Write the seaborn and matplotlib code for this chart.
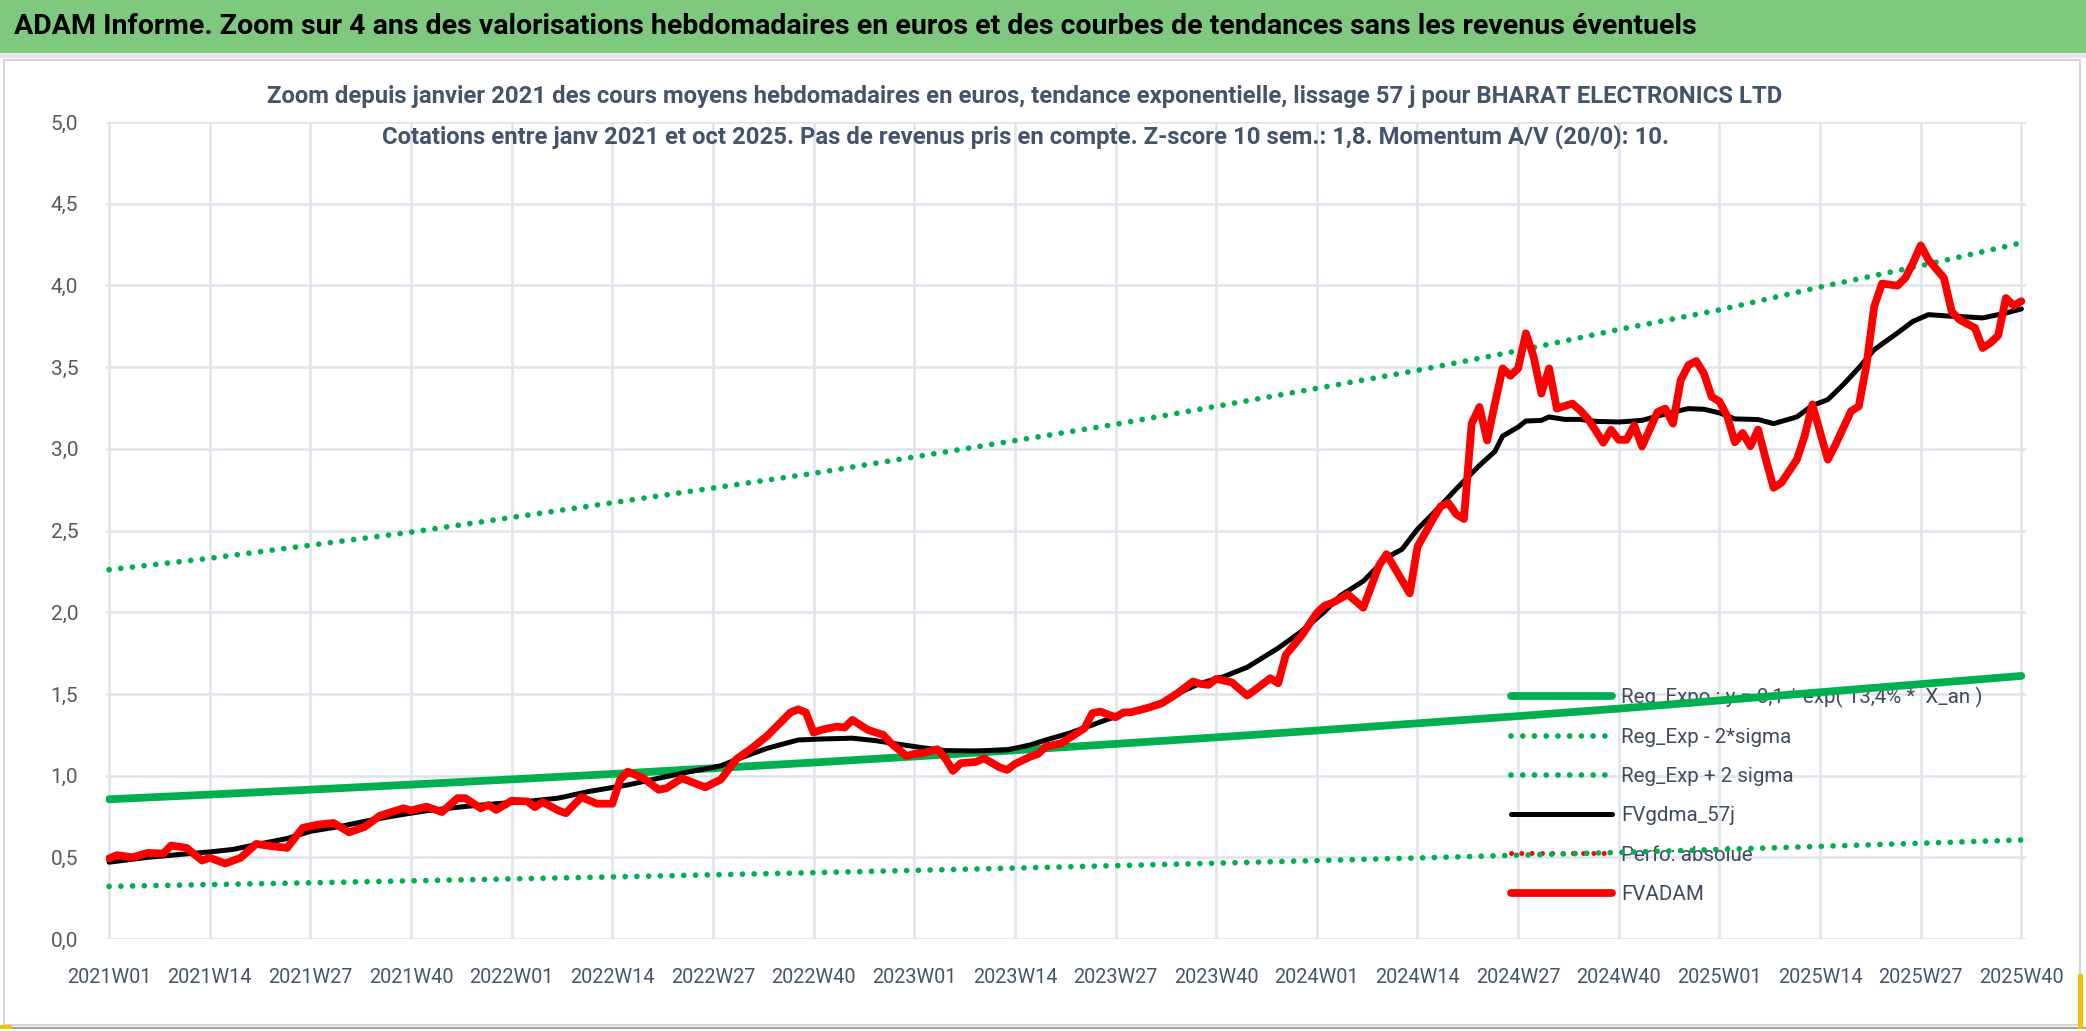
import matplotlib
matplotlib.use('Agg')
import matplotlib.pyplot as plt
import seaborn as sns
from matplotlib.patches import Rectangle
from matplotlib.lines import Line2D
from matplotlib.ticker import FuncFormatter

# x axis: weeks counted from 2021W01
tick_labels = ['2021W01', '2021W14', '2021W27', '2021W40',
               '2022W01', '2022W14', '2022W27', '2022W40',
               '2023W01', '2023W14', '2023W27', '2023W40',
               '2024W01', '2024W14', '2024W27', '2024W40',
               '2025W01', '2025W14', '2025W27', '2025W40']
tick_weeks = [13 * k for k in range(len(tick_labels))]

# trend curves read at each labelled week
reg_expo = [0.855, 0.884, 0.914, 0.945, 0.977, 1.01, 1.045, 1.08, 1.117, 1.155,
            1.194, 1.234, 1.276, 1.32, 1.364, 1.41, 1.46, 1.51, 1.56, 1.61]
reg_low = [0.322, 0.333, 0.344, 0.356, 0.368, 0.38, 0.393, 0.406, 0.42, 0.434,
           0.449, 0.464, 0.48, 0.496, 0.513, 0.53, 0.548, 0.567, 0.586, 0.606]
reg_high = [2.26, 2.33, 2.41, 2.49, 2.58, 2.67, 2.76, 2.85, 2.95, 3.05,
            3.15, 3.26, 3.37, 3.48, 3.60, 3.73, 3.85, 3.99, 4.12, 4.26]

# FVADAM (red)
red_weeks = [0, 1, 3, 5, 7, 8, 10, 12, 13, 15, 17, 19, 21, 23, 25, 27, 29, 31, 33, 35,
             38, 39, 41, 43, 45, 46, 48, 49, 50, 52, 54, 55, 56, 58, 59, 61, 63, 65, 66, 67,
             69, 71, 72, 74, 77, 78, 79, 81, 83, 85, 88, 89, 90, 91, 92, 94, 95, 96, 98, 100,
             101, 103, 104, 105, 107, 108, 109, 110, 112, 113, 115, 116, 117, 119, 120, 121, 123, 124, 126, 127,
             128, 130, 131, 132, 134, 136, 138, 140, 141, 142, 143, 145, 147, 148, 150, 151, 152, 154, 156, 157,
             158, 160, 161, 162, 164, 165, 168, 169, 171, 172, 173, 174, 175, 176, 177, 178, 179, 180, 181, 182,
             183, 184, 185, 186, 187, 189, 190, 191, 192, 193, 194, 195, 196, 197, 198, 200, 201, 202, 203, 204,
             205, 206, 207, 208, 209, 210, 211, 212, 213, 214, 215, 216, 218, 219, 220, 222, 223, 225, 226, 227,
             228, 229, 231, 232, 233, 234, 235, 237, 238, 239, 241, 242, 243, 244, 245, 246, 247]
red_vals = [0.493, 0.513, 0.50, 0.527, 0.523, 0.572, 0.558, 0.48, 0.497, 0.462, 0.497, 0.582, 0.568, 0.558, 0.68, 0.70, 0.71, 0.653, 0.686, 0.755,
            0.80, 0.787, 0.81, 0.777, 0.862, 0.862, 0.80, 0.82, 0.79, 0.846, 0.842, 0.807, 0.838, 0.787, 0.77, 0.868, 0.828, 0.828, 0.974, 1.024,
            0.984, 0.913, 0.923, 0.984, 0.928, 0.953, 0.975, 1.10, 1.167, 1.243, 1.386, 1.406, 1.386, 1.263, 1.28, 1.30, 1.294, 1.341, 1.28, 1.249,
            1.198, 1.12, 1.133, 1.137, 1.161, 1.106, 1.029, 1.076, 1.084, 1.106, 1.051, 1.035, 1.071, 1.116, 1.133, 1.178, 1.198, 1.229, 1.29, 1.382,
            1.392, 1.357, 1.386, 1.388, 1.412, 1.443, 1.504, 1.576, 1.561, 1.555, 1.592, 1.571, 1.49, 1.524, 1.596, 1.565, 1.739, 1.855, 1.995, 2.04,
            2.057, 2.109, 2.068, 2.027, 2.283, 2.355, 2.115, 2.40, 2.57, 2.648, 2.668, 2.60, 2.57, 3.154, 3.256, 3.051, 3.277, 3.492, 3.447, 3.492,
            3.707, 3.564, 3.338, 3.492, 3.246, 3.277, 3.236, 3.184, 3.113, 3.037, 3.117, 3.055, 3.055, 3.143, 3.014, 3.225, 3.246, 3.154, 3.42, 3.512,
            3.537, 3.461, 3.318, 3.29, 3.20, 3.04, 3.097, 3.016, 3.118, 2.934, 2.761, 2.792, 2.934, 3.077, 3.271, 2.934, 3.026, 3.23, 3.26, 3.515,
            3.872, 4.011, 3.998, 4.045, 4.137, 4.245, 4.157, 4.045, 3.841, 3.79, 3.74, 3.617, 3.648, 3.693, 3.923, 3.876, 3.903]

# FVgdma_57j (black)
black_weeks = [0, 5, 10, 13, 16, 19, 23, 26, 30, 33, 37, 41, 46, 50, 54, 58, 62, 67, 71, 75,
               78, 79, 82, 85, 89, 92, 96, 99, 102, 105, 108, 112, 116, 119, 121, 124, 127, 129, 132, 136,
               139, 141, 144, 147, 151, 154, 157, 159, 162, 165, 167, 169, 172, 174, 177, 179, 180, 182, 183, 185,
               186, 188, 190, 192, 195, 198, 200, 202, 204, 206, 208, 210, 213, 215, 218, 220, 222, 224, 226, 228,
               231, 233, 235, 238, 240, 242, 245, 247]
black_vals = [0.47, 0.50, 0.521, 0.533, 0.548, 0.578, 0.615, 0.659, 0.69, 0.72, 0.755, 0.785, 0.811, 0.828, 0.842, 0.862, 0.903, 0.943, 0.984, 1.024,
              1.05, 1.06, 1.116, 1.167, 1.218, 1.224, 1.229, 1.214, 1.192, 1.171, 1.153, 1.151, 1.157, 1.188, 1.218, 1.259, 1.31, 1.345, 1.392, 1.443,
              1.524, 1.565, 1.606, 1.663, 1.78, 1.882, 2.004, 2.10, 2.19, 2.334, 2.385, 2.508, 2.652, 2.754, 2.898, 2.984, 3.078, 3.133, 3.17, 3.174,
              3.195, 3.18, 3.18, 3.168, 3.164, 3.174, 3.20, 3.225, 3.246, 3.242, 3.22, 3.183, 3.179, 3.154, 3.195, 3.265, 3.301, 3.393, 3.495, 3.607,
              3.709, 3.78, 3.821, 3.811, 3.807, 3.801, 3.831, 3.856]

sns.set_theme(style='white')
plt.rcParams['font.family'] = ['Roboto', 'DejaVu Sans']

W, H = 2086, 1031
fig = plt.figure(figsize=(W / 100, H / 100), dpi=100)
fig.patch.set_facecolor('white')

# banner and chart frame
fig.add_artist(Rectangle((0, 1 - 53 / H), 1, 53 / H, transform=fig.transFigure,
                         facecolor='#7fc97f', edgecolor='none'))
fig.add_artist(Rectangle((0, 1 - 58 / H), 1, 5 / H, transform=fig.transFigure,
                         facecolor='#e4e6ea', edgecolor='none'))
fig.add_artist(Rectangle((4 / W, 6 / H), 2076 / W, (H - 66) / H, transform=fig.transFigure,
                         facecolor='none', edgecolor='#d4d4d4', linewidth=1.5))
fig.add_artist(Rectangle((0, 2 / H), 1, 2 / H, transform=fig.transFigure,
                         facecolor='#a0a0a0', edgecolor='none'))
fig.add_artist(Rectangle((0, 2 / H), 12 / W, 4 / H, transform=fig.transFigure,
                         facecolor='#f2c200', edgecolor='none'))
fig.add_artist(Rectangle((2078 / W, 2 / H), 5 / W, 55 / H, transform=fig.transFigure,
                         facecolor='#f2c200', edgecolor='none'))

fig.text(14 / W, 1 - 27 / H,
         'ADAM Informe. Zoom sur 4 ans des valorisations hebdomadaires en euros et des courbes de tendances sans les revenus éventuels',
         fontsize=20.5, fontweight='bold', color='black', va='center', ha='left')
title_color = '#44546a'
fig.text(1025 / W, 1 - 97 / H,
         'Zoom depuis janvier 2021 des cours moyens hebdomadaires en euros, tendance exponentielle, lissage 57 j pour BHARAT ELECTRONICS LTD',
         fontsize=17.2, fontweight='bold', color=title_color, ha='center', va='center')
fig.text(1025 / W, 1 - 137 / H,
         'Cotations entre janv 2021 et oct 2025. Pas de revenus pris en compte. Z-score 10 sem.: 1,8. Momentum A/V (20/0): 10.',
         fontsize=17.2, fontweight='bold', color=title_color, ha='center', va='center')

left, right, top, bottom = 106, 2026, 122, 939
ax = fig.add_axes([left / W, 1 - bottom / H, (right - left) / W, (bottom - top) / H])
ax.set_facecolor('none')

dot = (0, (0.01, 2.05))
sns.lineplot(x=tick_weeks, y=reg_expo, ax=ax, color='#00b050', linewidth=5.6, zorder=3)
sns.lineplot(x=tick_weeks, y=reg_low, ax=ax, color='#00b050', linewidth=4.1,
             linestyle=dot, dash_capstyle='round', zorder=3)
sns.lineplot(x=tick_weeks, y=reg_high, ax=ax, color='#00b050', linewidth=4.1,
             linestyle=dot, dash_capstyle='round', zorder=3)
sns.lineplot(x=black_weeks, y=black_vals, ax=ax, color='black', linewidth=3.6,
             sort=False, estimator=None, zorder=4)
sns.lineplot(x=red_weeks, y=red_vals, ax=ax, color='#ff0000', linewidth=5.6,
             sort=False, estimator=None, zorder=5)

ax.set_xlim(-0.4, 247.6)
ax.set_ylim(0, 5)
ax.set_xticks(tick_weeks)
ax.set_xticklabels(tick_labels)
ax.set_yticks([0, 0.5, 1, 1.5, 2, 2.5, 3, 3.5, 4, 4.5, 5])
ax.yaxis.set_major_formatter(FuncFormatter(lambda v, p: f'{v:.1f}'.replace('.', ',')))
grid_c = '#dfe3ea'
ax.grid(True, color=grid_c, linewidth=1.8, zorder=0)
ax.set_axisbelow(True)
for s in ax.spines.values():
    s.set_visible(False)
ax.tick_params(axis='x', length=11, width=1.8, color=grid_c, direction='out',
               labelsize=14.3, labelcolor='#44546a', pad=10)
ax.tick_params(axis='y', length=0, labelsize=15, labelcolor='#595959', pad=20)
ax.set_xlabel('')
ax.set_ylabel('')

handles = [
    Line2D([], [], color='#00b050', linewidth=5.6),
    Line2D([], [], color='#00b050', linewidth=4.1, linestyle=dot, dash_capstyle='round'),
    Line2D([], [], color='#00b050', linewidth=4.1, linestyle=dot, dash_capstyle='round'),
    Line2D([], [], color='black', linewidth=3.6),
    Line2D([], [], color='#ff0000', linewidth=3.6, linestyle=dot, dash_capstyle='round'),
    Line2D([], [], color='#ff0000', linewidth=5.6),
]
labels = ['Reg_Expo : y = 0,1 * exp( 13,4% *  X_an )', 'Reg_Exp - 2*sigma', 'Reg_Exp + 2 sigma',
          'FVgdma_57j', 'Perfo: absolue', 'FVADAM']
leg = ax.legend(handles, labels, loc='upper left', bbox_to_anchor=(0.732, 0.3085),
                frameon=False, fontsize=14.8, handlelength=4.9, handletextpad=0.45,
                labelspacing=0.98, borderpad=0, borderaxespad=0)
for t in leg.get_texts():
    t.set_color('#3f4a5a')
leg.set_zorder(1)

fig.savefig('out.png', dpi=100)
